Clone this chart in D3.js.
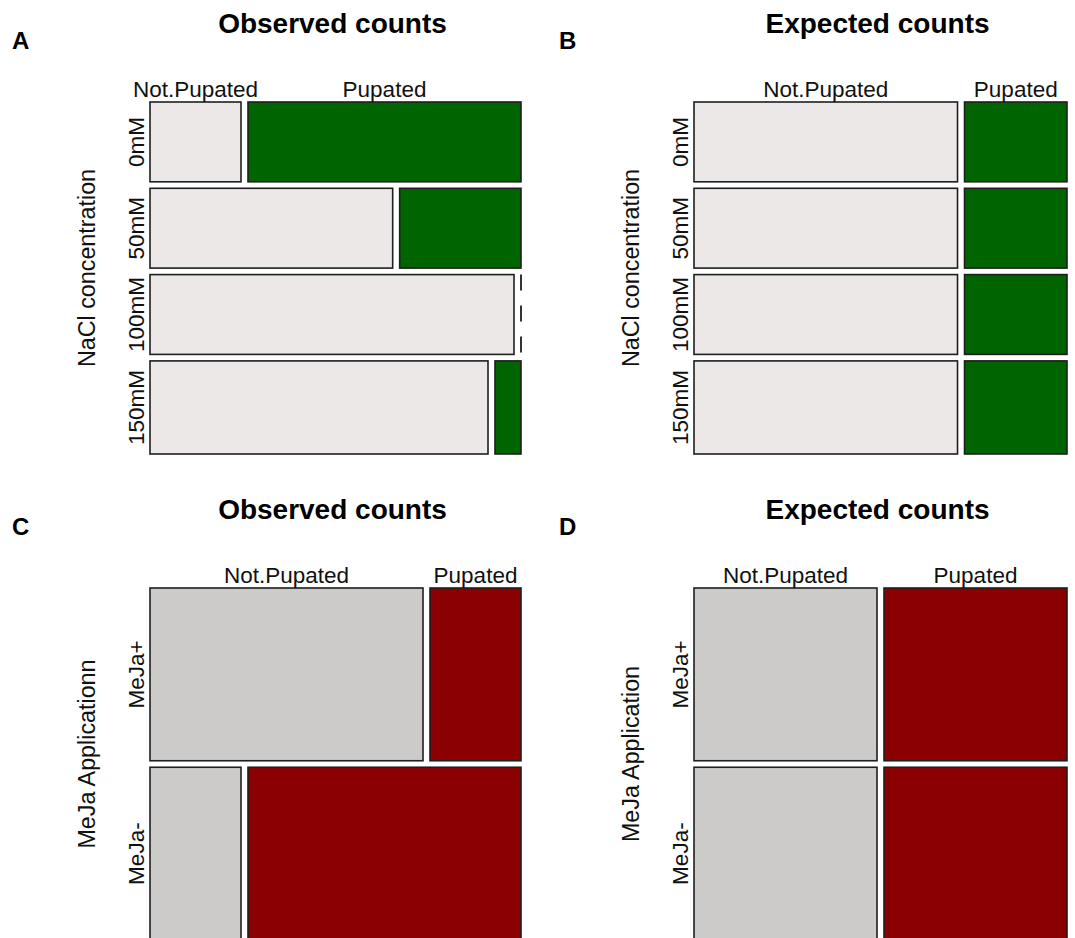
<!DOCTYPE html>
<html>
<head>
<meta charset="utf-8">
<script src="https://cdn.jsdelivr.net/npm/d3@7"></script>
<style>
  html, body { margin: 0; padding: 0; background: #fff; }
  svg { display: block; font-family: "Liberation Sans", Arial, sans-serif; }
</style>
</head>
<body>
<svg id="chart" width="1075" height="938"></svg>
<script>
// Pupation outcome categories (columns of each mosaic)
const pupaLevels = ["Not.Pupated", "Pupated"];

// NaCl treatment: observed and expected counts per concentration
const naclLevels = ["0mM", "50mM", "100mM", "150mM"];
const naclObsNot = [6, 16, 24, 26];
const naclObsPup = [18, 8, 0, 2];
const naclExpNot = [17.28, 17.28, 17.28, 20.16];
const naclExpPup = [6.72, 6.72, 6.72, 7.84];

// MeJa treatment: observed and expected counts
const mejaLevels = ["MeJa+", "MeJa-"];
const mejaObsNot = [30, 10];
const mejaObsPup = [10, 30];
const mejaExpNot = [20, 20];
const mejaExpPup = [20, 20];

const svg = d3.select("#chart");
svg.append("rect").attr("width", 1075).attr("height", 938).attr("fill", "#fff");

const GAP_X = 7, GAP_Y = 6.5;

function mosaic(cfg) {
  const g = svg.append("g");
  const { x0, x1, y0, y1, rows, notCounts, pupCounts, fillNot, fillPup } = cfg;
  const rowTotals = rows.map((_, i) => notCounts[i] + pupCounts[i]);
  const total = d3.sum(rowTotals);
  const usableH = (y1 - y0) - GAP_Y * (rows.length - 1);
  const yScale = d3.scaleLinear().domain([0, total]).range([0, usableH]);
  const cum = d3.cumsum([0, ...rowTotals]);

  const cells = rows.map((name, i) => {
    const top = y0 + yScale(cum[i]) + GAP_Y * i;
    const bottom = top + yScale(rowTotals[i]);
    const xScale = d3.scaleLinear().domain([0, rowTotals[i]]).range([0, (x1 - x0) - GAP_X]);
    const notRight = x0 + xScale(notCounts[i]);
    const pupLeft = notRight + GAP_X;
    return { name, i, top, bottom,
      parts: [
        { key: pupaLevels[0], a: x0, b: notRight, n: notCounts[i], fill: fillNot },
        { key: pupaLevels[1], a: pupLeft, b: pupLeft + xScale(pupCounts[i]), n: pupCounts[i], fill: fillPup }
      ] };
  });

  cells.forEach(row => {
    row.parts.forEach(p => {
      if (p.n > 0) {
        g.append("rect")
          .attr("x", p.a).attr("y", row.top)
          .attr("width", p.b - p.a).attr("height", row.bottom - row.top)
          .attr("fill", p.fill).attr("stroke", "#1e1e1e").attr("stroke-width", 1.6);
      } else {
        // empty cell is shown as a dashed line
        g.append("line")
          .attr("x1", p.a).attr("x2", p.a)
          .attr("y1", row.top).attr("y2", row.bottom)
          .attr("stroke", "#333").attr("stroke-width", 2)
          .attr("stroke-dasharray", "16,15");
      }
    });
    // row label
    const cy = (row.top + row.bottom) / 2;
    g.append("text")
      .attr("transform", `translate(${x0 - 6},${cy}) rotate(-90)`)
      .attr("text-anchor", "middle")
      .attr("font-size", 22.5).attr("fill", "#111")
      .text(row.name);
  });

  // column labels above the first row
  cells[0].parts.forEach(p => {
    g.append("text")
      .attr("x", (p.a + p.b) / 2).attr("y", y0 - 5)
      .attr("text-anchor", "middle")
      .attr("font-size", 22.5).attr("fill", "#111")
      .text(p.key);
  });

  // title
  g.append("text")
    .attr("x", (x0 + x1) / 2 - 3).attr("y", y0 - 69)
    .attr("text-anchor", "middle")
    .attr("font-size", 28).attr("font-weight", "bold").attr("fill", "#000")
    .text(cfg.title);

  // panel letter
  g.append("text")
    .attr("x", cfg.letterX).attr("y", y0 - 53)
    .attr("font-size", 24).attr("font-weight", "bold").attr("fill", "#000")
    .text(cfg.letter);

  // row variable title
  g.append("text")
    .attr("transform", `translate(${x0 - 55},${(y0 + y1) / 2 - 10}) rotate(-90)`)
    .attr("text-anchor", "middle")
    .attr("font-size", 23.3).attr("fill", "#111")
    .text(cfg.ylab);
}

const green = "#006400", paleNot = "#ECE8E7";
const red = "#8B0000", greyNot = "#CDCACA";

mosaic({ x0: 150, x1: 521, y0: 102, y1: 454, rows: naclLevels,
  notCounts: naclObsNot, pupCounts: naclObsPup, fillNot: paleNot, fillPup: green,
  title: "Observed counts", letter: "A", letterX: 12, ylab: "NaCl concentration" });
mosaic({ x0: 694, x1: 1067, y0: 102, y1: 454, rows: naclLevels,
  notCounts: naclExpNot, pupCounts: naclExpPup, fillNot: paleNot, fillPup: green,
  title: "Expected counts", letter: "B", letterX: 559, ylab: "NaCl concentration" });
mosaic({ x0: 150, x1: 521, y0: 588, y1: 940, rows: mejaLevels,
  notCounts: mejaObsNot, pupCounts: mejaObsPup, fillNot: greyNot, fillPup: red,
  title: "Observed counts", letter: "C", letterX: 12, ylab: "MeJa Applicationn" });
mosaic({ x0: 694, x1: 1067, y0: 588, y1: 940, rows: mejaLevels,
  notCounts: mejaExpNot, pupCounts: mejaExpPup, fillNot: greyNot, fillPup: red,
  title: "Expected counts", letter: "D", letterX: 559, ylab: "MeJa Application" });
</script>
</body>
</html>
